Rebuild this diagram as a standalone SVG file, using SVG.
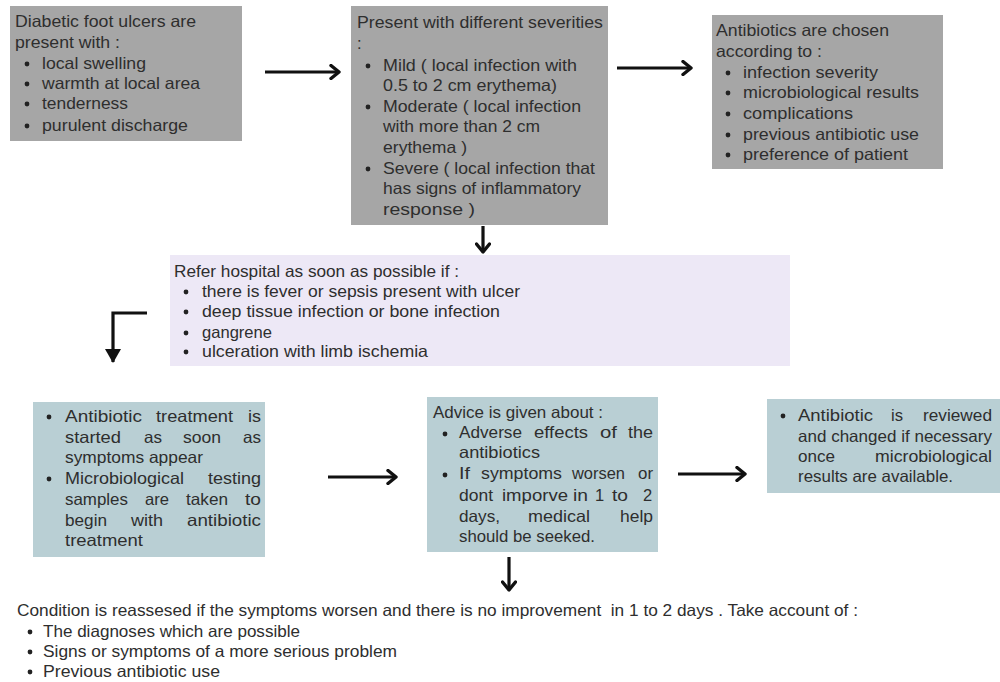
<svg xmlns="http://www.w3.org/2000/svg" width="1000" height="682" viewBox="0 0 1000 682">
<style>
.t{font-family:"Liberation Sans","Open Sans",Arial,sans-serif;font-size:16.5px;fill:#2e2e2e}
.gray{fill:#a6a6a6}
.lilac{fill:#ede8f6}
.teal{fill:#b9cfd4}
.dot{fill:#222}
.arr{fill:none;stroke:#111;stroke-width:3.2}
</style>
<defs>
<marker id="chev" viewBox="0 0 12 16" markerWidth="12" markerHeight="16" refX="10" refY="8" orient="auto" markerUnits="userSpaceOnUse">
<path d="M2,1.5 L10,8 L2,14.5" fill="none" stroke="#111" stroke-width="3.4" stroke-linecap="round" stroke-linejoin="round"/>
</marker>
<marker id="tri" viewBox="0 0 14 16" markerWidth="14" markerHeight="16" refX="13" refY="8" orient="auto" markerUnits="userSpaceOnUse">
<path d="M0,0 L14,8 L0,16 Z" fill="#111"/>
</marker>
</defs>

<g id="node-presentation">
<rect class="gray" x="10" y="6" width="232" height="135"/>
<text class="t" x="15" y="27" textLength="181" lengthAdjust="spacingAndGlyphs">Diabetic foot ulcers are</text>
<text class="t" x="15" y="48" textLength="105" lengthAdjust="spacingAndGlyphs">present with :</text>
<circle class="dot" cx="27" cy="64" r="2.4"/>
<circle class="dot" cx="27" cy="84" r="2.4"/>
<circle class="dot" cx="27" cy="104" r="2.4"/>
<circle class="dot" cx="27" cy="126" r="2.4"/>
<text class="t" x="42" y="69" textLength="104" lengthAdjust="spacingAndGlyphs">local swelling</text>
<text class="t" x="42" y="89" textLength="158" lengthAdjust="spacingAndGlyphs">warmth at local area</text>
<text class="t" x="42" y="109" textLength="86" lengthAdjust="spacingAndGlyphs">tenderness</text>
<text class="t" x="42" y="131" textLength="146" lengthAdjust="spacingAndGlyphs">purulent discharge</text>
</g>

<g id="node-severities">
<rect class="gray" x="351" y="6" width="257" height="219"/>
<text class="t" x="357" y="28" textLength="246" lengthAdjust="spacingAndGlyphs">Present with different severities</text>
<text class="t" x="357" y="49">:</text>
<circle class="dot" cx="368" cy="66" r="2.4"/>
<circle class="dot" cx="368" cy="107" r="2.4"/>
<circle class="dot" cx="368" cy="169" r="2.4"/>
<text class="t" x="383" y="71" textLength="194" lengthAdjust="spacingAndGlyphs">Mild ( local infection with</text>
<text class="t" x="383" y="91" textLength="174" lengthAdjust="spacingAndGlyphs">0.5 to 2 cm erythema)</text>
<text class="t" x="383" y="112" textLength="198" lengthAdjust="spacingAndGlyphs">Moderate ( local infection</text>
<text class="t" x="383" y="132" textLength="157" lengthAdjust="spacingAndGlyphs">with more than 2 cm</text>
<text class="t" x="383" y="153" textLength="84" lengthAdjust="spacingAndGlyphs">erythema )</text>
<text class="t" x="383" y="174" textLength="212" lengthAdjust="spacingAndGlyphs">Severe ( local infection that</text>
<text class="t" x="383" y="194" textLength="198" lengthAdjust="spacingAndGlyphs">has signs of inflammatory</text>
<text class="t" x="383" y="215" textLength="92" lengthAdjust="spacingAndGlyphs">response )</text>
</g>

<g id="node-antibiotic-choice">
<rect class="gray" x="712" y="15" width="231" height="154"/>
<text class="t" x="716" y="36" textLength="173" lengthAdjust="spacingAndGlyphs">Antibiotics are chosen</text>
<text class="t" x="716" y="57" textLength="106" lengthAdjust="spacingAndGlyphs">according to :</text>
<circle class="dot" cx="728" cy="73" r="2.4"/>
<circle class="dot" cx="728" cy="93" r="2.4"/>
<circle class="dot" cx="728" cy="114" r="2.4"/>
<circle class="dot" cx="728" cy="135" r="2.4"/>
<circle class="dot" cx="728" cy="155" r="2.4"/>
<text class="t" x="743" y="78" textLength="135" lengthAdjust="spacingAndGlyphs">infection severity</text>
<text class="t" x="743" y="98" textLength="176" lengthAdjust="spacingAndGlyphs">microbiological results</text>
<text class="t" x="743" y="119" textLength="110" lengthAdjust="spacingAndGlyphs">complications</text>
<text class="t" x="743" y="140" textLength="176" lengthAdjust="spacingAndGlyphs">previous antibiotic use</text>
<text class="t" x="743" y="160" textLength="165" lengthAdjust="spacingAndGlyphs">preference of patient</text>
</g>

<g id="node-refer">
<rect class="lilac" x="170" y="255" width="620" height="111"/>
<text class="t" x="174" y="277" textLength="285" lengthAdjust="spacingAndGlyphs">Refer hospital as soon as possible if :</text>
<circle class="dot" cx="186" cy="292" r="2.4"/>
<circle class="dot" cx="186" cy="312" r="2.4"/>
<circle class="dot" cx="186" cy="333" r="2.4"/>
<circle class="dot" cx="186" cy="352" r="2.4"/>
<text class="t" x="202" y="297" textLength="318" lengthAdjust="spacingAndGlyphs">there is fever or sepsis present with ulcer</text>
<text class="t" x="202" y="317" textLength="298" lengthAdjust="spacingAndGlyphs">deep tissue infection or bone infection</text>
<text class="t" x="202" y="338" textLength="70" lengthAdjust="spacingAndGlyphs">gangrene</text>
<text class="t" x="202" y="357" textLength="226" lengthAdjust="spacingAndGlyphs">ulceration with limb ischemia</text>
</g>

<g id="node-treatment">
<rect class="teal" x="33" y="402" width="232" height="155"/>
<circle class="dot" cx="49" cy="417" r="2.4"/>
<circle class="dot" cx="49" cy="479" r="2.4"/>
<text class="t" y="422"><tspan x="65" textLength="77" lengthAdjust="spacingAndGlyphs">Antibiotic</tspan><tspan x="156" textLength="77" lengthAdjust="spacingAndGlyphs">treatment</tspan><tspan x="248" textLength="13" lengthAdjust="spacingAndGlyphs">is</tspan></text>
<text class="t" y="443"><tspan x="65" textLength="56" lengthAdjust="spacingAndGlyphs">started</tspan><tspan x="144" textLength="18" lengthAdjust="spacingAndGlyphs">as</tspan><tspan x="183" textLength="38" lengthAdjust="spacingAndGlyphs">soon</tspan><tspan x="243" textLength="18" lengthAdjust="spacingAndGlyphs">as</tspan></text>
<text class="t" x="65" y="463" textLength="138" lengthAdjust="spacingAndGlyphs">symptoms appear</text>
<text class="t" y="484"><tspan x="65" textLength="119" lengthAdjust="spacingAndGlyphs">Microbiological</tspan><tspan x="208" textLength="53" lengthAdjust="spacingAndGlyphs">testing</tspan></text>
<text class="t" y="505"><tspan x="65" textLength="63" lengthAdjust="spacingAndGlyphs">samples</tspan><tspan x="145" textLength="24" lengthAdjust="spacingAndGlyphs">are</tspan><tspan x="186" textLength="42" lengthAdjust="spacingAndGlyphs">taken</tspan><tspan x="245" textLength="16" lengthAdjust="spacingAndGlyphs">to</tspan></text>
<text class="t" y="526"><tspan x="65" textLength="42" lengthAdjust="spacingAndGlyphs">begin</tspan><tspan x="131" textLength="32" lengthAdjust="spacingAndGlyphs">with</tspan><tspan x="187" textLength="74" lengthAdjust="spacingAndGlyphs">antibiotic</tspan></text>
<text class="t" x="65" y="546" textLength="78" lengthAdjust="spacingAndGlyphs">treatment</text>
</g>

<g id="node-advice">
<rect class="teal" x="427" y="397" width="231" height="155"/>
<text class="t" x="433" y="418" textLength="170" lengthAdjust="spacingAndGlyphs">Advice is given about :</text>
<circle class="dot" cx="445" cy="434" r="2.4"/>
<circle class="dot" cx="445" cy="475" r="2.4"/>
<text class="t" y="438"><tspan x="459" textLength="63" lengthAdjust="spacingAndGlyphs">Adverse</tspan><tspan x="534" textLength="54" lengthAdjust="spacingAndGlyphs">effects</tspan><tspan x="600" textLength="17" lengthAdjust="spacingAndGlyphs">of</tspan><tspan x="628" textLength="25" lengthAdjust="spacingAndGlyphs">the</tspan></text>
<text class="t" x="459" y="458" textLength="81" lengthAdjust="spacingAndGlyphs">antibiotics</text>
<text class="t" y="479"><tspan x="459" textLength="11" lengthAdjust="spacingAndGlyphs">If</tspan><tspan x="481" textLength="81" lengthAdjust="spacingAndGlyphs">symptoms</tspan><tspan x="572" textLength="53" lengthAdjust="spacingAndGlyphs">worsen</tspan><tspan x="638" textLength="15" lengthAdjust="spacingAndGlyphs">or</tspan></text>
<text class="t" y="501"><tspan x="459" textLength="34" lengthAdjust="spacingAndGlyphs">dont</tspan><tspan x="502" textLength="66" lengthAdjust="spacingAndGlyphs">imporve</tspan><tspan x="573" textLength="15" lengthAdjust="spacingAndGlyphs">in</tspan><tspan x="595">1</tspan><tspan x="612" textLength="16" lengthAdjust="spacingAndGlyphs">to</tspan><tspan x="643">2</tspan></text>
<text class="t" y="522"><tspan x="459" textLength="41" lengthAdjust="spacingAndGlyphs">days,</tspan><tspan x="528" textLength="62" lengthAdjust="spacingAndGlyphs">medical</tspan><tspan x="620" textLength="33" lengthAdjust="spacingAndGlyphs">help</tspan></text>
<text class="t" x="459" y="542" textLength="136" lengthAdjust="spacingAndGlyphs">should be seeked.</text>
</g>

<g id="node-review">
<rect class="teal" x="767" y="399" width="233" height="94"/>
<circle class="dot" cx="783" cy="416" r="2.4"/>
<text class="t" y="421"><tspan x="798" textLength="75" lengthAdjust="spacingAndGlyphs">Antibiotic</tspan><tspan x="891" textLength="12" lengthAdjust="spacingAndGlyphs">is</tspan><tspan x="923" textLength="69" lengthAdjust="spacingAndGlyphs">reviewed</tspan></text>
<text class="t" x="798" y="442" textLength="194" lengthAdjust="spacingAndGlyphs">and changed if necessary</text>
<text class="t" y="462"><tspan x="798" textLength="37" lengthAdjust="spacingAndGlyphs">once</tspan><tspan x="875" textLength="117" lengthAdjust="spacingAndGlyphs">microbiological</tspan></text>
<text class="t" x="798" y="482" textLength="155" lengthAdjust="spacingAndGlyphs">results are available.</text>
</g>

<g id="node-reassess">
<text class="t" x="17" y="616" textLength="841" lengthAdjust="spacingAndGlyphs" xml:space="preserve">Condition is reassesed if the symptoms worsen and there is no improvement  in 1 to 2 days . Take account of :</text>
<circle class="dot" cx="30" cy="632" r="2.4"/>
<circle class="dot" cx="30" cy="652" r="2.4"/>
<circle class="dot" cx="30" cy="672" r="2.4"/>
<text class="t" x="43" y="637" textLength="257" lengthAdjust="spacingAndGlyphs">The diagnoses which are possible</text>
<text class="t" x="43" y="657" textLength="354" lengthAdjust="spacingAndGlyphs">Signs or symptoms of a more serious problem</text>
<text class="t" x="43" y="677" textLength="177" lengthAdjust="spacingAndGlyphs">Previous antibiotic use</text>
</g>

<g id="connectors">
<path class="arr" d="M265,72 H339" marker-end="url(#chev)"/>
<path class="arr" d="M617,68 H691" marker-end="url(#chev)"/>
<path class="arr" d="M483,226 V252" marker-end="url(#chev)"/>
<path class="arr" d="M147,313 H113 V362" marker-end="url(#tri)"/>
<path class="arr" d="M328,477 H396" marker-end="url(#chev)"/>
<path class="arr" d="M678,474 H745" marker-end="url(#chev)"/>
<path class="arr" d="M509,557 V590" marker-end="url(#chev)"/>
</g>
</svg>
